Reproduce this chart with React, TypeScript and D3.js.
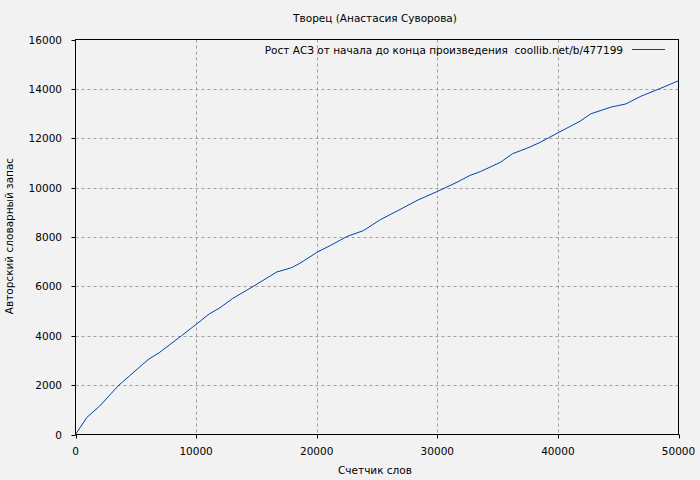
import React from "react";
import * as d3 from "d3";

const title = "Творец (Анастасия Суворова)";
const legendLabel = "Рост АСЗ от начала до конца произведения  coollib.net/b/477199";
const xLabel = "Счетчик слов";
const yLabel = "Авторский словарный запас";

const wordCounts = [0, 940, 2000, 3600, 4490, 5540, 6100, 6930, 8790, 10000, 11080, 11970, 13000, 14740, 16680, 17930, 18620, 20060, 21110, 22500, 23880, 25270, 26660, 28320, 30030, 31640, 32690, 33580, 35250, 36220, 37460, 38430, 40120, 41840, 42730, 44390, 45640, 46880, 48400, 49380, 50000];
const vocab = [0, 690, 1150, 2000, 2380, 2830, 3060, 3310, 4000, 4460, 4880, 5130, 5500, 6000, 6580, 6760, 6940, 7390, 7650, 8020, 8260, 8700, 9050, 9480, 9850, 10220, 10490, 10650, 11030, 11370, 11600, 11810, 12250, 12690, 12990, 13260, 13390, 13700, 14000, 14200, 14330];

const xTicks = [0, 10000, 20000, 30000, 40000, 50000];
const yTicks = [0, 2000, 4000, 6000, 8000, 10000, 12000, 14000, 16000];

const W = 700, H = 480;
const M = { left: 75.5, right: 678.5, top: 39.5, bottom: 434.5 };
const FONT = "'DejaVu Sans', sans-serif";

export default function App() {
  const x = d3.scaleLinear().domain([0, 50000]).range([M.left, M.right]);
  const y = d3.scaleLinear().domain([0, 16000]).range([M.bottom, M.top]);
  const pts: [number, number][] = wordCounts.map((w, i) => [w, vocab[i]]);
  const line = d3.line<[number, number]>().x(d => x(d[0])).y(d => y(d[1]));
  const fs = 10.5;
  const fn = 10.5;
  return (
    <svg width={W} height={H} style={{ position: "absolute", left: 0, top: 0, background: "#f2f2f2" }} fontFamily={FONT}>
      <rect x={0} y={0} width={W} height={H} fill="#f2f2f2" />
      {xTicks.slice(1, -1).map(t => (
        <line key={"gx" + t} x1={Math.round(x(t)) + 0.5} x2={Math.round(x(t)) + 0.5} y1={M.top} y2={M.bottom} stroke="#a0a0a0" strokeDasharray="3,3" />
      ))}
      {yTicks.slice(1, -1).map(t => (
        <line key={"gy" + t} x1={M.left} x2={M.right} y1={Math.round(y(t)) + 0.5} y2={Math.round(y(t)) + 0.5} stroke="#a0a0a0" strokeDasharray="3,3" />
      ))}
      <rect x={M.left} y={M.top} width={M.right - M.left} height={M.bottom - M.top} fill="none" stroke="#000" strokeWidth={1} />
      {xTicks.map(t => (
        <g key={"tx" + t}>
          <line x1={Math.round(x(t)) + 0.5} x2={Math.round(x(t)) + 0.5} y1={M.bottom} y2={M.bottom + 4} stroke="#000" />
          <text x={x(t)} y={455} textAnchor="middle" fontSize={fn} fill="#000">{t}</text>
        </g>
      ))}
      {yTicks.map(t => (
        <g key={"ty" + t}>
          <line x1={M.left - 4} x2={M.left} y1={Math.round(y(t)) + 0.5} y2={Math.round(y(t)) + 0.5} stroke="#000" />
          <text x={62} y={y(t) + 4} textAnchor="end" fontSize={fn} fill="#000">{t}</text>
        </g>
      ))}
      <path d={line(pts) || ""} fill="none" stroke="#0044aa" strokeWidth={1} />
      <text x={623} y={54} textAnchor="end" fontSize={fs} fill="#000" style={{ whiteSpace: "pre" }}>{legendLabel}</text>
      <line x1={632} x2={665} y1={49.5} y2={49.5} stroke="#0044aa" strokeWidth={1} />
      <text x={375} y={22} textAnchor="middle" fontSize={fs} fill="#000">{title}</text>
      <text x={375} y={474} textAnchor="middle" fontSize={fs} fill="#000">{xLabel}</text>
      <text transform={`translate(13,236) rotate(-90)`} textAnchor="middle" fontSize={fs} fill="#000">{yLabel}</text>
    </svg>
  );
}
